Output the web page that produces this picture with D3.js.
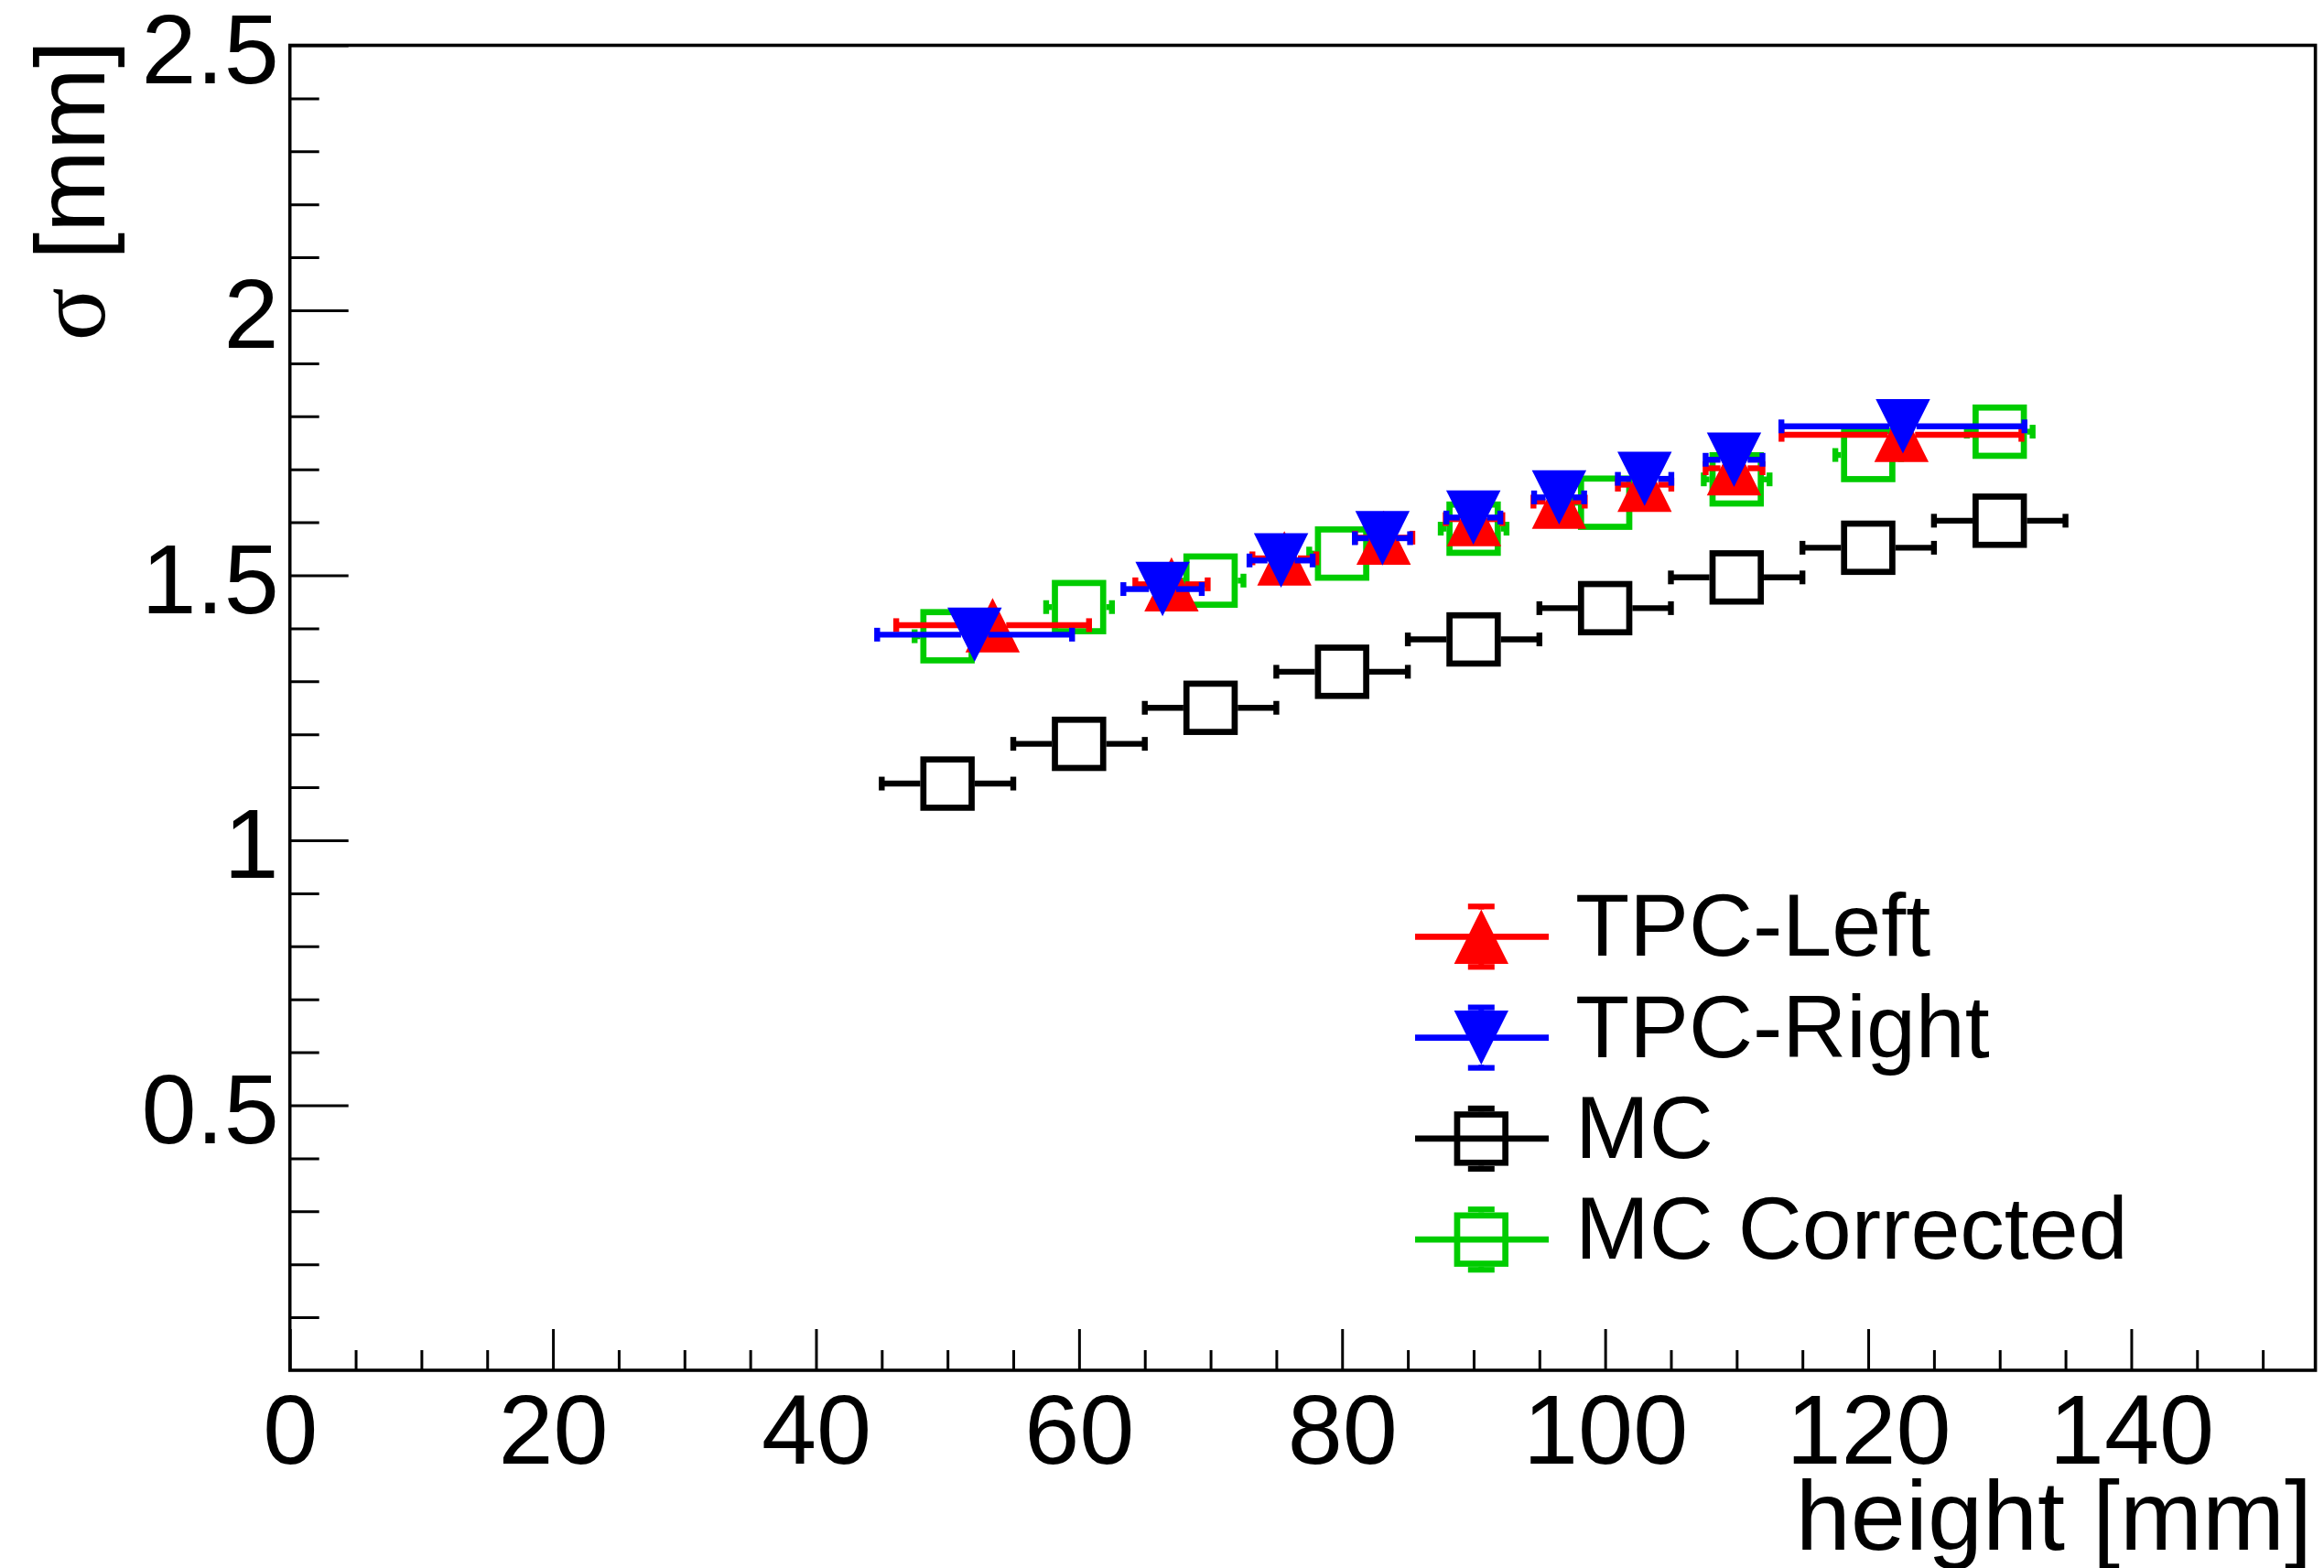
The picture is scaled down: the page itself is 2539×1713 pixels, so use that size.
<!DOCTYPE html>
<html>
<head>
<meta charset="utf-8">
<script src="https://cdn.jsdelivr.net/npm/d3@7"></script>
<style>
  html, body { margin: 0; padding: 0; background: #ffffff; }
  svg { display: block; }
</style>
</head>
<body>
<svg id="chart" width="2539" height="1713"></svg>
<script>
// ---- data: cluster width sigma versus drift height ----
const mcHeight        = [50, 60, 70, 80, 90, 100, 110, 120, 130];
const mcHeightErr     = [5, 5, 5, 5, 5, 5, 5, 5, 5];
const mcSigma         = [1.107, 1.182, 1.250, 1.318, 1.379, 1.438, 1.496, 1.552, 1.603];
const mcSigmaErr      = [0.005, 0.005, 0.005, 0.005, 0.005, 0.005, 0.005, 0.005, 0.005];

const mcCorrHeight    = [50, 60, 70, 80, 90, 100, 110, 120, 130];
const mcCorrHeightErr = [2.5, 2.5, 2.5, 2.5, 2.5, 2.5, 2.5, 2.5, 2.5];
const mcCorrSigma     = [1.385, 1.440, 1.490, 1.541, 1.588, 1.637, 1.681, 1.727, 1.771];
const mcCorrSigmaErr  = [0.005, 0.005, 0.005, 0.005, 0.005, 0.005, 0.005, 0.005, 0.005];

const leftHeight      = [53.43, 67.03, 75.61, 83.16, 90.03, 96.5, 103.0, 109.8, 122.53];
const leftHeightErr   = [7.33, 2.75, 2.43, 2.18, 2.15, 1.95, 2.03, 2.16, 9.12];
const leftSigma       = [1.406, 1.483, 1.532, 1.571, 1.606, 1.639, 1.671, 1.702, 1.765];
const leftSigmaErr    = [0.01, 0.01, 0.01, 0.01, 0.01, 0.01, 0.01, 0.01, 0.01];

const rightHeight     = [52.06, 66.35, 75.36, 83.07, 89.98, 96.5, 103.0, 109.8, 122.64];
const rightHeightErr  = [7.41, 2.98, 2.40, 2.10, 2.05, 1.90, 2.03, 2.16, 9.24];
const rightSigma      = [1.388, 1.474, 1.528, 1.570, 1.609, 1.647, 1.682, 1.718, 1.781];
const rightSigmaErr   = [0.01, 0.01, 0.01, 0.01, 0.01, 0.01, 0.01, 0.01, 0.01];

// ---- axes ----
const xMajorTicks = [0, 20, 40, 60, 80, 100, 120, 140];
const xMinorTicks = [5, 10, 15, 25, 30, 35, 45, 50, 55, 65, 70, 75, 85, 90, 95,
                     105, 110, 115, 125, 130, 135, 145, 150];
const yMajorTicks = [0.5, 1, 1.5, 2, 2.5];
const yTickLabels = ["0.5", "1", "1.5", "2", "2.5"];
const yMinorTicks = [0.1, 0.2, 0.3, 0.4, 0.6, 0.7, 0.8, 0.9, 1.1, 1.2, 1.3, 1.4,
                     1.6, 1.7, 1.8, 1.9, 2.1, 2.2, 2.3, 2.4];
const xTitle = "height [mm]";
const yTitleSymbol = "σ";
const yTitleUnit = " [mm]";

const legendLabels = ["TPC-Left", "TPC-Right", "MC", "MC Corrected"];
const legendColors = ["#ff0000", "#0000ff", "#000000", "#00cc00"];
const legendShapes = ["up", "down", "square", "square"];

// ---- layout ----
const FONT = "'Liberation Sans', Arial, Helvetica, sans-serif";
const svg = d3.select("#chart");
const x = d3.scaleLinear().domain([0, 154]).range([316.7, 2529.6]);
const y = d3.scaleLinear().domain([0, 2.5]).range([1497, 49.5]);

const HALF = 29.7;        // marker half size in px
const BAR_W = 6.4;        // error bar line width
const CAP = 7.5;          // half length of end caps

svg.append("rect").attr("width", 2539).attr("height", 1713).attr("fill", "#fff");

function styleAxis(g, size) {
  g.attr("font-family", FONT).attr("font-size", size);
  g.select(".domain").remove();
  g.selectAll(".tick line").attr("stroke", "#000").attr("stroke-width", 3);
  g.selectAll(".tick text").attr("fill", "#000");
}

// x axis: major + minor ticks pointing into the frame
const gx = svg.append("g").attr("transform", `translate(0,${y(0)})`)
  .call(d3.axisBottom(x).tickValues(xMajorTicks).tickSize(-45).tickPadding(25)
        .tickFormat(d3.format("d")));
styleAxis(gx, 108);
const gxm = svg.append("g").attr("transform", `translate(0,${y(0)})`)
  .call(d3.axisBottom(x).tickValues(xMinorTicks).tickSize(-22).tickFormat(() => ""));
styleAxis(gxm, 108);

// y axis
const gy = svg.append("g").attr("transform", `translate(${x(0)},0)`)
  .call(d3.axisLeft(y).tickValues(yMajorTicks).tickSize(-64).tickPadding(12)
        .tickFormat((d, i) => yTickLabels[i]));
styleAxis(gy, 108);
gy.selectAll(".tick text").attr("dy", "0.378em");
const gym = svg.append("g").attr("transform", `translate(${x(0)},0)`)
  .call(d3.axisLeft(y).tickValues(yMinorTicks).tickSize(-32).tickFormat(() => ""));
styleAxis(gym, 108);

// frame
svg.append("rect")
  .attr("x", x(0)).attr("y", y(2.5))
  .attr("width", x(154) - x(0)).attr("height", y(0) - y(2.5))
  .attr("fill", "none").attr("stroke", "#000").attr("stroke-width", 3.6);

// axis titles
svg.append("text")
  .attr("x", 2526).attr("y", 1693)
  .attr("text-anchor", "end")
  .attr("font-family", FONT).attr("font-size", 108)
  .text(xTitle);

const yt = svg.append("text")
  .attr("transform", "translate(113.5,44) rotate(-90)")
  .attr("text-anchor", "end")
  .attr("font-family", FONT).attr("font-size", 108);
yt.append("tspan").attr("font-family", "'Liberation Serif', 'DejaVu Serif', serif").text(yTitleSymbol);
yt.append("tspan").text(yTitleUnit);

// ---- marker shapes ----
function markerPath(shape, h) {
  if (shape === "up") return `M0,${-h}L${h},${h}L${-h},${h}Z`;
  if (shape === "down") return `M0,${h}L${h},${-h}L${-h},${-h}Z`;
  return null;
}

function drawMarker(g, shape, cx, cy, color) {
  if (shape === "square") {
    const s = HALF - 3.35;
    g.append("rect")
      .attr("x", cx - s).attr("y", cy - s)
      .attr("width", 2 * s).attr("height", 2 * s)
      .attr("fill", "none").attr("stroke", color).attr("stroke-width", 6.7);
  } else {
    g.append("path")
      .attr("transform", `translate(${cx},${cy})`)
      .attr("d", markerPath(shape, HALF))
      .attr("fill", color);
  }
}

function seg(g, x1, y1, x2, y2, color, w) {
  g.append("line")
    .attr("x1", x1).attr("y1", y1).attr("x2", x2).attr("y2", y2)
    .attr("stroke", color).attr("stroke-width", w);
}

// error bars stop at the marker; triangles leave a narrower gap horizontally
function drawSeries(xs, xe, ys, ye, color, shape) {
  const g = svg.append("g");
  const gapX = shape === "square" ? HALF : HALF * 0.5;
  const gapY = HALF;
  xs.forEach((xv, i) => {
    const cx = x(xv), cy = y(ys[i]);
    const xl = x(xv - xe[i]), xr = x(xv + xe[i]);
    const yt = y(ys[i] + ye[i]), yb = y(ys[i] - ye[i]);
    if (cx - gapX > xl) {
      seg(g, xl, cy, cx - gapX, cy, color, BAR_W);
      seg(g, xl, cy - CAP, xl, cy + CAP, color, BAR_W);
    }
    if (xr > cx + gapX) {
      seg(g, cx + gapX, cy, xr, cy, color, BAR_W);
      seg(g, xr, cy - CAP, xr, cy + CAP, color, BAR_W);
    }
    if (cy - gapY > yt) {
      seg(g, cx, yt, cx, cy - gapY, color, BAR_W);
      seg(g, cx - CAP, yt, cx + CAP, yt, color, BAR_W);
    }
    if (yb > cy + gapY) {
      seg(g, cx, cy + gapY, cx, yb, color, BAR_W);
      seg(g, cx - CAP, yb, cx + CAP, yb, color, BAR_W);
    }
  });
  xs.forEach((xv, i) => drawMarker(g, shape, x(xv), y(ys[i]), color));
}

drawSeries(mcHeight, mcHeightErr, mcSigma, mcSigmaErr, legendColors[2], legendShapes[2]);
drawSeries(mcCorrHeight, mcCorrHeightErr, mcCorrSigma, mcCorrSigmaErr, legendColors[3], legendShapes[3]);
drawSeries(leftHeight, leftHeightErr, leftSigma, leftSigmaErr, legendColors[0], legendShapes[0]);
drawSeries(rightHeight, rightHeightErr, rightSigma, rightSigmaErr, legendColors[1], legendShapes[1]);

// ---- legend ----
const leg = svg.append("g");
const legX = 1618.3, legLine0 = 1546, legLine1 = 1692, legText = 1721;
const legY0 = 1023.3, legStep = 110.3;
legendLabels.forEach((label, i) => {
  const cy = legY0 + i * legStep;
  const color = legendColors[i];
  seg(leg, legLine0, cy, legLine1, cy, color, 6.7);
  // vertical error bar with end caps
  seg(leg, legX, cy - 33, legX, cy - HALF, color, 6);
  seg(leg, legX, cy + HALF, legX, cy + 33, color, 6);
  seg(leg, legX - 14.5, cy - 33, legX + 14.5, cy - 33, color, 6.2);
  seg(leg, legX - 14.5, cy + 33, legX + 14.5, cy + 33, color, 6.2);
  drawMarker(leg, legendShapes[i], legX, cy, color);
  leg.append("text")
    .attr("x", legText).attr("y", cy + 21)
    .attr("font-family", FONT).attr("font-size", 97)
    .attr("fill", "#000")
    .text(label);
});
</script>
</body>
</html>
